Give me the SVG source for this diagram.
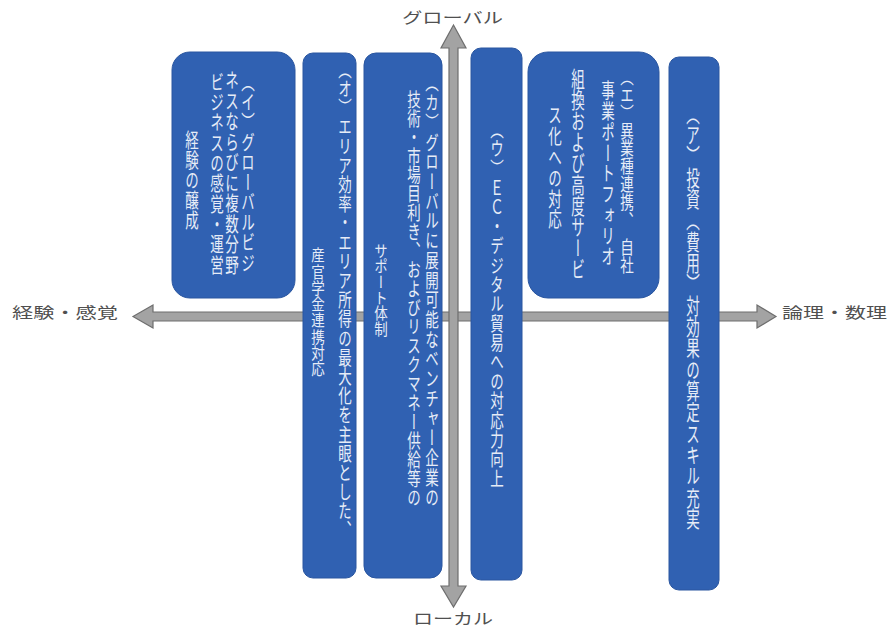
<svg xmlns="http://www.w3.org/2000/svg" width="890" height="628" viewBox="0 0 890 628">
<defs>
<style>
.box{fill:#3061b2;stroke:#2a56a0;stroke-width:1}
.vt{font-family:"Noto Sans CJK JP","Noto Sans CJK SC",sans-serif;font-size:13.5px;fill:#e6ecf7;writing-mode:vertical-rl;text-orientation:upright}
.lab{font-family:"Noto Sans CJK JP","Noto Sans CJK SC",sans-serif;font-size:15px;fill:#505050}
.arr{fill:#a3a3a3;stroke:#6e6e6e;stroke-width:1.2;stroke-linejoin:miter}
</style>
</defs>
<rect width="890" height="628" fill="#ffffff"/>
<g id="connectors">
<path class="arr" d="M133,316.5 L153,305 L153,312 L757,312 L757,305 L776,316.5 L757,328 L757,321 L153,321 L153,328 Z"/>
<path class="arr" d="M453.5,25 L466,48 L458,48 L458,586 L466,586 L453.5,607 L441,586 L449,586 L449,48 L441,48 Z"/>
</g>
<g id="axis-labels">
<text class="lab" x="402" y="23" textLength="101" lengthAdjust="spacingAndGlyphs">グローバル</text>
<text class="lab" x="413" y="624" textLength="80" lengthAdjust="spacingAndGlyphs">ローカル</text>
<text class="lab" x="12" y="318" textLength="106" lengthAdjust="spacingAndGlyphs">経験・感覚</text>
<text class="lab" x="782" y="318" textLength="105" lengthAdjust="spacingAndGlyphs">論理・数理</text>
</g>
<g id="node-i">
<rect class="box" x="172" y="52" width="123" height="246" rx="18"/>
<text class="vt" transform="translate(248,72) scale(1,1.489)">（イ）グローバルビジ</text>
<text class="vt" transform="translate(232,70) scale(1,1.519)">ネスならびに複数分野</text>
<text class="vt" transform="translate(217,72) scale(1,1.504)">ビジネスの感覚・運営</text>
<text class="vt" transform="translate(192,130) scale(1,1.481)">経験の醸成</text>
</g>
<g id="node-o">
<rect class="box" x="303" y="53" width="53" height="525" rx="10"/>
<text class="vt" transform="translate(345,60) scale(1,1.422)">（オ）エリア効率・エリア所得の最大化を主眼とした、</text>
<text class="vt" transform="translate(318,247) scale(1,1.204)">産官学金連携対応</text>
</g>
<g id="node-ka">
<rect class="box" x="364" y="53" width="78" height="525" rx="12"/>
<text class="vt" transform="translate(432,73) scale(1,1.461)">（カ）グローバルに展開可能なベンチャー企業の</text>
<text class="vt" transform="translate(414,90) scale(1,1.404)">技術・市場目利き、およびリスクマネー供給等の</text>
<text class="vt" transform="translate(381,243) scale(1,1.16)">サポート体制</text>
</g>
<g id="node-u">
<rect class="box" x="471" y="48" width="51" height="532" rx="10"/>
<text class="vt" transform="translate(497,120) scale(1,1.435)">（ウ）ＥＣ・デジタル貿易への対応力向上</text>
</g>
<g id="node-e">
<rect class="box" x="528" y="52" width="131" height="246" rx="20"/>
<text class="vt" transform="translate(627,68) scale(1,1.327)">（エ）異業種連携、　自社</text>
<text class="vt" transform="translate(608,80) scale(1,1.539)">事業ポートフォリオ</text>
<text class="vt" transform="translate(578,68) scale(1,1.57)">組換および高度サービ</text>
<text class="vt" transform="translate(555,105) scale(1,1.543)">ス化への対応</text>
</g>
<g id="node-a">
<rect class="box" x="669" y="57" width="50" height="533" rx="10"/>
<text class="vt" transform="translate(693,103) scale(1,1.581)">（ア）投資（費用）対効果の算定スキル充実</text>
</g>
</svg>
